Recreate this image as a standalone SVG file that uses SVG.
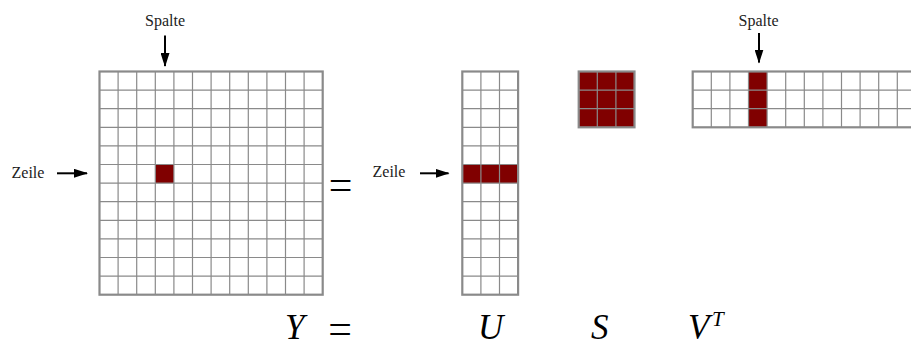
<svg xmlns="http://www.w3.org/2000/svg" width="911" height="345" viewBox="0 0 911 345">
<defs>
<style>
.bg{fill:#fff}
.red{fill:#800000}
.inner{fill:none;stroke:#8a8a8a;stroke-width:1.2}
.outer{fill:none;stroke:#8a8a8a;stroke-width:2.2}
.arr{stroke:#000;stroke-width:2;fill:none}
</style>
<marker id="ah" markerWidth="14" markerHeight="9" refX="13" refY="4.5" orient="auto" markerUnits="userSpaceOnUse" viewBox="0 0 14 9">
<path d="M0,0 L14,4.5 L0,9 Z" fill="#000"/>
</marker>
</defs>

<g id="Y">
<rect class="bg" x="99.5" y="71.5" width="223.2" height="223.2"/>
<rect class="red" x="155.3" y="164.5" width="18.6" height="18.6"/>
<path class="inner" d="M118.1,71.5V294.7M136.7,71.5V294.7M155.3,71.5V294.7M173.9,71.5V294.7M192.5,71.5V294.7M211.1,71.5V294.7M229.7,71.5V294.7M248.3,71.5V294.7M266.9,71.5V294.7M285.5,71.5V294.7M304.1,71.5V294.7M99.5,90.1H322.7M99.5,108.7H322.7M99.5,127.3H322.7M99.5,145.9H322.7M99.5,164.5H322.7M99.5,183.1H322.7M99.5,201.7H322.7M99.5,220.3H322.7M99.5,238.9H322.7M99.5,257.5H322.7M99.5,276.1H322.7"/>
<rect class="outer" x="99.5" y="71.5" width="223.2" height="223.2"/>
</g>

<g id="U">
<rect class="bg" x="462.3" y="71.5" width="55.8" height="223.2"/>
<rect class="red" x="462.3" y="164.5" width="55.8" height="18.6"/>
<path class="inner" d="M480.9,71.5V294.7M499.5,71.5V294.7M462.3,90.1H518.1M462.3,108.7H518.1M462.3,127.3H518.1M462.3,145.9H518.1M462.3,164.5H518.1M462.3,183.1H518.1M462.3,201.7H518.1M462.3,220.3H518.1M462.3,238.9H518.1M462.3,257.5H518.1M462.3,276.1H518.1"/>
<rect class="outer" x="462.3" y="71.5" width="55.8" height="223.2"/>
</g>

<g id="S">
<rect class="red" x="578.7" y="71.5" width="55.8" height="55.8"/>
<path class="inner" d="M597.3,71.5V127.3M615.9,71.5V127.3M578.7,90.1H634.5M578.7,108.7H634.5"/>
<rect class="outer" x="578.7" y="71.5" width="55.8" height="55.8"/>
</g>

<g id="VT">
<rect class="bg" x="692.7" y="71.5" width="223.2" height="55.8"/>
<rect class="red" x="748.5" y="71.5" width="18.6" height="55.8"/>
<path class="inner" d="M711.3,71.5V127.3M729.9,71.5V127.3M748.5,71.5V127.3M767.1,71.5V127.3M785.7,71.5V127.3M804.3,71.5V127.3M822.9,71.5V127.3M841.5,71.5V127.3M860.1,71.5V127.3M878.7,71.5V127.3M897.3,71.5V127.3M692.7,90.1H915.9M692.7,108.7H915.9"/>
<rect class="outer" x="692.7" y="71.5" width="223.2" height="55.8"/>
</g>

<g id="labels">
<text font-family="Liberation Serif" font-size="16" fill="#222" x="165" y="26" text-anchor="middle">Spalte</text>
<text font-family="Liberation Serif" font-size="16" fill="#222" x="758.5" y="26" text-anchor="middle">Spalte</text>
<text font-family="Liberation Serif" font-size="16" fill="#222" x="11.5" y="178">Zeile</text>
<text font-family="Liberation Serif" font-size="16" fill="#222" x="372.5" y="177">Zeile</text>
<text font-family="Liberation Serif" font-size="42" fill="#000" x="340.5" y="199" text-anchor="middle">=</text>
<text font-family="Liberation Serif" font-size="35" font-style="italic" fill="#000" x="285" y="339">Y</text>
<text font-family="Liberation Serif" font-size="42" fill="#000" x="340" y="343" text-anchor="middle">=</text>
<text font-family="Liberation Serif" font-size="35" font-style="italic" fill="#000" x="478" y="339">U</text>
<text font-family="Liberation Serif" font-size="35" font-style="italic" fill="#000" x="591" y="339">S</text>
<text font-family="Liberation Serif" font-size="35" font-style="italic" fill="#000" x="688" y="339">V</text>
<text font-family="Liberation Serif" font-size="21" font-style="italic" fill="#000" x="712" y="326">T</text>
</g>

<g id="connectors">
<line class="arr" x1="165" y1="35.5" x2="165" y2="66" marker-end="url(#ah)"/>
<line class="arr" x1="759" y1="33" x2="759" y2="62.5" marker-end="url(#ah)"/>
<line class="arr" x1="57" y1="173.3" x2="87" y2="173.3" marker-end="url(#ah)"/>
<line class="arr" x1="420" y1="173.3" x2="448.5" y2="173.3" marker-end="url(#ah)"/>
</g>
</svg>
